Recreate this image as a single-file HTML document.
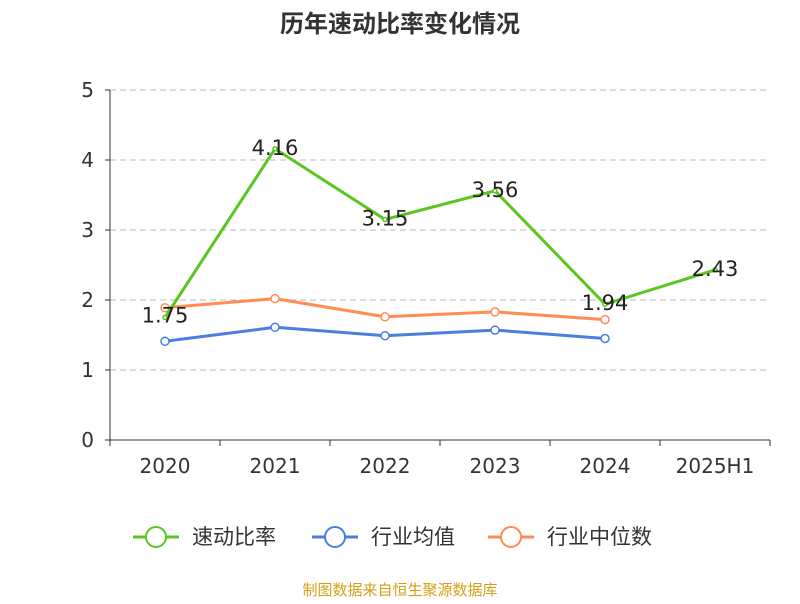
<!DOCTYPE html>
<html><head><meta charset="utf-8"><style>
body{margin:0;background:#fff;font-family:"DejaVu Sans","Noto Sans CJK SC",sans-serif;}
</style></head><body>
<svg width="800" height="600" xmlns="http://www.w3.org/2000/svg" font-family="DejaVu Sans, Noto Sans CJK SC, sans-serif">
<text x="400" y="32" text-anchor="middle" font-size="24" font-weight="bold" fill="#333">历年速动比率变化情况</text>
<g id="grid"></g><g id="axes"></g><g id="series"></g>
<g font-size="21" fill="#333">
<g><line x1="133" y1="537" x2="179" y2="537" stroke="#5cc51f" stroke-width="3"/><circle cx="156" cy="537" r="10" fill="#fff" stroke="#5cc51f" stroke-width="2"/><text x="192" y="544">速动比率</text></g>
<g><line x1="312" y1="537" x2="358" y2="537" stroke="#4a7ee0" stroke-width="3"/><circle cx="335" cy="537" r="10" fill="#fff" stroke="#4a7ee0" stroke-width="2"/><text x="371" y="544">行业均值</text></g>
<g><line x1="488" y1="537" x2="534" y2="537" stroke="#ff8c55" stroke-width="3"/><circle cx="511" cy="537" r="10" fill="#fff" stroke="#ff8c55" stroke-width="2"/><text x="547" y="544">行业中位数</text></g>
</g>
<text x="400" y="595" text-anchor="middle" font-size="15" fill="#d4a017">制图数据来自恒生聚源数据库</text>
</svg>
<script>
const categories=["2020","2021","2022","2023","2024","2025H1"];
const quickRatio=[1.75,4.16,3.15,3.56,1.94,2.43];
const industryAvg=[1.41,1.61,1.49,1.57,1.45];
const industryMedian=[1.89,2.02,1.76,1.83,1.72];
const yTicks=[0,1,2,3,4,5];
const NS="http://www.w3.org/2000/svg";
const x0=110,x1=770,y0=440,y1=90,ymax=5;
const bw=(x1-x0)/categories.length;
const X=i=>x0+bw*(i+0.5);
const Y=v=>y0-(v/ymax)*(y0-y1);
function mk(t,a,p){const e=document.createElementNS(NS,t);for(const k in a)e.setAttribute(k,a[k]);p.appendChild(e);return e;}
const grid=document.getElementById('grid'),axes=document.getElementById('axes'),ser=document.getElementById('series');
yTicks.forEach(v=>{
 if(v>0){const l=mk('line',{x1:x0,x2:x1,y1:Y(v),y2:Y(v),stroke:'#bbb','stroke-dasharray':'6,4'},grid);
 
 }
 const t=mk('text',{x:x0-16,y:Y(v)+7,'text-anchor':'end','font-size':20,fill:'#333'},axes);t.textContent=v;
 
 
 mk('line',{x1:x0-5,x2:x0,y1:Y(v),y2:Y(v),stroke:'#333'},axes);
});
mk('line',{x1:x0,x2:x0,y1:y1,y2:y0,stroke:'#333'},axes);
mk('line',{x1:x0,x2:x1,y1:y0,y2:y0,stroke:'#333'},axes);
for(let i=0;i<=categories.length;i++)mk('line',{x1:x0+bw*i,x2:x0+bw*i,y1:y0,y2:y0+6,stroke:'#333'},axes);
categories.forEach((c,i)=>{const t=mk('text',{x:X(i),y:y0+33,'text-anchor':'middle','font-size':20,fill:'#333'},axes);t.textContent=c;
 
 });
function line(data,color,name,markers,labels){
 const g=mk('g',{},ser);
 
 
 mk('polyline',{points:data.map((v,i)=>X(i)+','+Y(v)).join(' '),fill:'none',stroke:color,'stroke-width':3},g);
 data.forEach((v,i)=>{
  const c=mk('circle',{cx:X(i),cy:Y(v),r:markers?4:2,fill:'#fff',stroke:color,'stroke-width':1.5},g);
  
  
  if(labels){const t=mk('text',{x:X(i),y:i==0?Y(v)+5:Y(v)+6,'text-anchor':'middle','font-size':21,fill:'#222'},g);
   t.textContent=v.toFixed(2);
   
   }
 });
}
line(industryMedian,'#ff8c55','industry-median-line',true,false);
line(industryAvg,'#4a7ee0','industry-avg-line',true,false);
line(quickRatio,'#5cc51f','quick-ratio-line',false,true);
</script>
</body></html>
